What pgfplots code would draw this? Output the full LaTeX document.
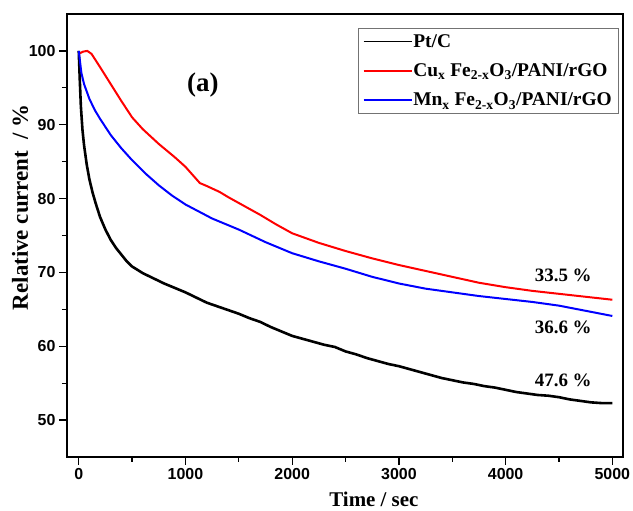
\documentclass[border=0pt]{standalone}
\usepackage{fontspec}
\setmainfont{Liberation Serif}
\newfontfamily\arialfont{Liberation Sans}
\usepackage{pgfplots}
\pgfplotsset{compat=1.18}
\begin{document}
\begin{tikzpicture}[x=1bp,y=1bp]
\useasboundingbox (-67,-54) rectangle (566,457);
\begin{axis}[
  scale only axis, width=556bp, height=443bp,
  xmin=-110, xmax=5100, ymin=45, ymax=105,
  xtick={0,1000,...,5000}, ytick={50,60,...,100},
  minor x tick num=1, minor y tick num=1,
  tick align=outside, xtick pos=bottom, ytick pos=left,
  major tick length=8bp, minor tick length=5bp,
  every tick/.style={black, line width=1.3bp},
  axis line style={line width=1.8bp},
  tick label style={font=\arialfont\bfseries\fontsize{16}{16}\selectfont},
  /pgf/number format/assume math mode=true,
  scaled x ticks=false, xticklabel style={/pgf/number format/1000 sep={}},
  xlabel={Time / sec}, ylabel={Relative current\ \ / \%},
  xlabel style={font=\bfseries\fontsize{21}{21}\selectfont, at={(axis description cs:0.552,0)}, anchor=center, yshift=-42bp},
  ylabel style={font=\bfseries\fontsize{23}{23}\selectfont, at={(axis description cs:-0.0845,0.564)}, anchor=center},
  legend style={at={(0.991,0.968)}, anchor=north east, draw=black!55,
    font=\bfseries\fontsize{19.5}{20}\selectfont, row sep=13bp, inner xsep=5bp, inner ysep=5bp,
    nodes={inner sep=1bp}},
  legend cell align=left,
  legend image code/.code={\draw[#1, line width=1.6bp] (0bp,0bp) -- (48bp,0bp);},
]
\addlegendimage{draw=black}
\addlegendentry{Pt/C}
\addlegendimage{draw=red}
\addlegendentry{Cu\textsubscript{x} Fe\textsubscript{2-x}O\textsubscript{3}/PANI/rGO}
\addlegendimage{draw=blue}
\addlegendentry{Mn\textsubscript{x} Fe\textsubscript{2-x}O\textsubscript{3}/PANI/rGO}
\addplot[black, line width=2.6bp, forget plot] coordinates {
(0,100) (5,98) (10,96) (20,92.5) (35,89.3) (50,87.2) (75,84.6) (100,82.6)
(130,80.8) (160,79.3) (200,77.5) (250,75.8) (300,74.4) (350,73.3) (400,72.4)
(450,71.5) (500,70.8) (600,69.9) (700,69.2) (800,68.5) (900,67.9) (1000,67.3)
(1100,66.6) (1200,65.9) (1300,65.4) (1400,64.9) (1500,64.4) (1600,63.8)
(1700,63.3) (1800,62.6) (1900,62.0) (2000,61.4) (2100,61.0) (2200,60.6)
(2300,60.2) (2400,59.9) (2500,59.3) (2600,58.9) (2700,58.4) (2800,58.0)
(2900,57.6) (3000,57.3) (3100,56.9) (3200,56.5) (3300,56.1) (3400,55.7)
(3500,55.4) (3600,55.1) (3700,54.9) (3800,54.6) (3900,54.4) (4000,54.1)
(4100,53.8) (4200,53.6) (4300,53.4) (4400,53.3) (4500,53.1) (4600,52.8)
(4700,52.6) (4800,52.4) (4900,52.3) (5000,52.3)};
\addplot[red, line width=2bp, forget plot] coordinates {
(0,99.6) (40,99.9) (80,100) (120,99.6) (160,98.7) (200,97.8) (300,95.5)
(400,93.2) (500,91.0) (600,89.4) (750,87.4) (900,85.6) (1000,84.3)
(1135,82.1) (1200,81.7) (1320,80.9) (1400,80.2) (1500,79.4) (1600,78.6)
(1700,77.8) (1850,76.5) (2000,75.3) (2250,74.0) (2500,72.9) (2750,71.9)
(3000,71.0) (3250,70.2) (3500,69.4) (3750,68.6) (4000,68.0) (4250,67.5)
(4500,67.1) (4750,66.7) (5000,66.3)};
\addplot[blue, line width=2bp, forget plot] coordinates {
(0,100) (25,97) (50,95.5) (100,93.5) (150,92) (200,90.8) (300,88.6)
(400,86.8) (500,85.2) (625,83.4) (750,81.8) (875,80.4) (1000,79.2) (1250,77.3) (1500,75.8)
(1750,74.1) (2000,72.6) (2250,71.5) (2500,70.5) (2750,69.4) (3000,68.5) (3250,67.8)
(3500,67.3) (3750,66.8) (4000,66.4) (4250,66.0) (4500,65.5) (4750,64.8) (5000,64.1)};
\node[font=\bfseries\fontsize{27}{27}\selectfont] at (axis cs:1163,95.4) {(a)};
\node[font=\bfseries\fontsize{19}{19}\selectfont] at (axis cs:4540,69.6) {33.5 \%};
\node[font=\bfseries\fontsize{19}{19}\selectfont] at (axis cs:4540,62.5) {36.6 \%};
\node[font=\bfseries\fontsize{19}{19}\selectfont] at (axis cs:4540,55.4) {47.6 \%};
\end{axis}
\end{tikzpicture}
\end{document}
